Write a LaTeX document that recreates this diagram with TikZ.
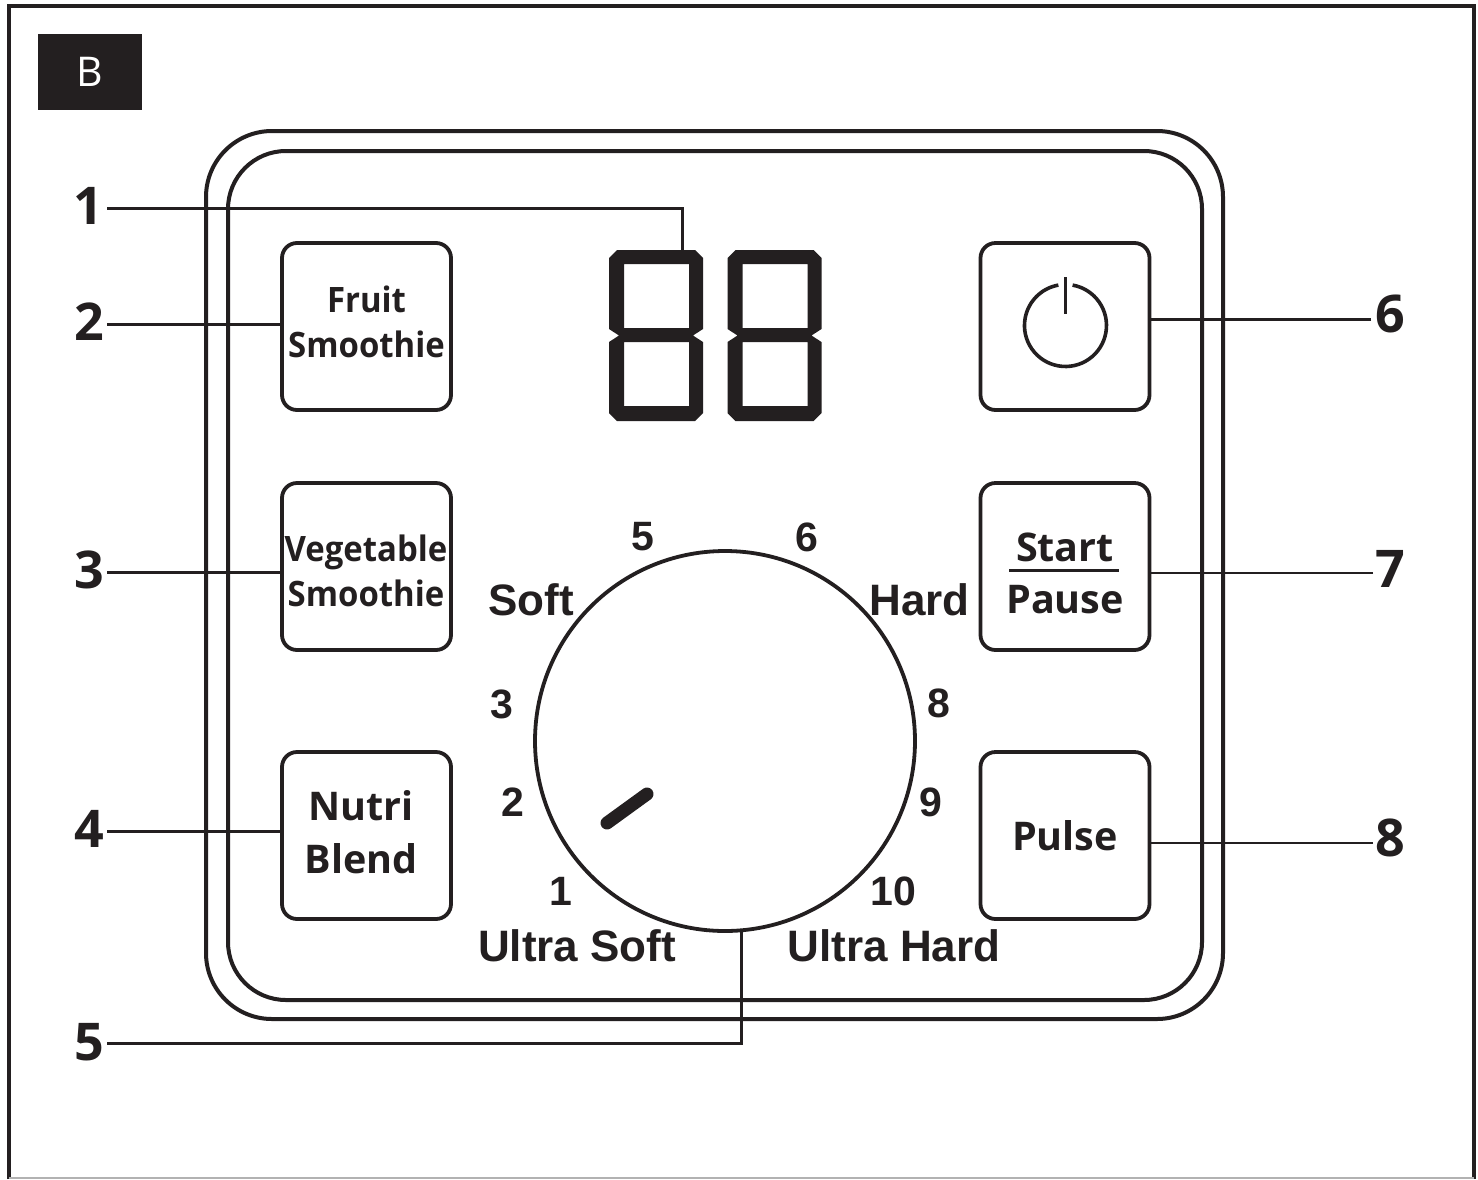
\documentclass[tikz,border=0pt]{standalone}
\usepackage{fontspec}
\setmainfont{Open Sans}
\newfontfamily\arialf{Liberation Sans}
\newfontfamily\btnf[FakeStretch=0.94]{Open Sans}
\definecolor{ink}{HTML}{231F20}
\tikzset{
  btn/.style={draw=ink,line width=3.8pt,rounded corners=15pt,minimum width=169pt,minimum height=167pt,inner sep=0pt},
  lead/.style={draw=ink,line width=3pt},
  leadthin/.style={draw=ink,line width=1.3pt},
  callout/.style={font=\fontsize{52}{52}\selectfont\bfseries,text=ink,inner sep=0pt},
  btntxt/.style={font=\btnf\fontsize{35}{45}\selectfont\bfseries,text=ink,inner sep=0pt,align=center},
  btnbig/.style={font=\fontsize{39.5}{53}\selectfont\bfseries,text=ink,inner sep=0pt,align=center},
  dial/.style={font=\arialf\fontsize{44}{44}\selectfont\bfseries,text=ink,inner sep=0pt},
  tick/.style={font=\arialf\fontsize{41}{41}\selectfont\bfseries,text=ink,inner sep=0pt},
  digit/.pic={
    \fill[ink,even odd rule]
      (8,0) -- (86,0) -- (94,8) -- (94,79) -- (84,85.5) -- (94,92) -- (94,163) -- (86,171) -- (8,171) -- (0,163) -- (0,92) -- (10,85.5) -- (0,79) -- (0,8) -- cycle
      (15,14) rectangle (80,78)
      (15,92) rectangle (80,156);
  }
}
\begin{document}
\begin{tikzpicture}[x=1pt,y=-1pt]
\useasboundingbox (0,0) rectangle (1478,1179);
\fill[white] (0,0) rectangle (1478,1179);
% page frame
\draw[draw=ink,line width=3.4pt] (9,1179) -- (9,6) -- (1474,6) -- (1474,1179);
\draw[draw=black!30,line width=1.5pt] (9,1178) -- (1474,1178);
% tag
\node[fill=ink,minimum width=104pt,minimum height=76pt,inner sep=0pt,text=white,font=\fontsize{41}{41}\selectfont] (tag) at (90,72) {B};
% panel
\node[draw=ink,line width=4pt,rounded corners=66pt,minimum width=1017pt,minimum height=888pt,inner sep=0pt] (outer) at (714.5,575) {};
\node[draw=ink,line width=4pt,rounded corners=58pt,minimum width=974pt,minimum height=849pt,inner sep=0pt] (inner) at (715,575.5) {};
% buttons
\node[btn] (fruit) at (366.5,326.5) {};
\node[btn] (veg) at (366.5,566.5) {};
\node[btn] (nutri) at (366.5,835.5) {};
\node[btn] (power) at (1065,326.5) {};
\node[btn] (start) at (1065,566.5) {};
\node[btn] (pulse) at (1065,835.5) {};
% button labels
\node[btntxt] (fruittxt) at (366.5,322) {Fruit\\Smoothie};
\node[btntxt] (vegtxt) at (366,570.5) {Vegetable\\Smoothie};
\node[btnbig] (nutritxt) at (361,832) {Nutri\\Blend};
\node[btnbig] (pulsetxt) at (1065,835.5) {Pulse};
\node[btnbig] (starttxt) at (1065,547) {Start};
\node[btnbig] (pausetxt) at (1065,600) {Pause};
\draw[draw=ink,line width=2.6pt] (1009,570.5) -- (1119,570.5);
% power icon
\draw[draw=ink,line width=3.6pt] (1072.6,285.1) arc[start angle=80,end angle=-260,radius=41pt];
\draw[draw=ink,line width=3.2pt] (1065.5,277) -- (1065.5,314);
% seven-segment digits
\path (609,250) pic {digit};
\path (727.5,250) pic {digit};
\coordinate (dtop) at (682,250);
% dial
\node[circle,draw=ink,line width=3.8pt,minimum size=380pt,inner sep=0pt] (knob) at (725,741) {};
\draw[draw=ink,line width=13pt,line cap=round] (607,823) -- (647,794);
\node[tick] (t1) at (561,891) {1};
\node[tick] (t2) at (513,802) {2};
\node[tick] (t3) at (502,704) {3};
\node[tick] (t5) at (643,537) {5};
\node[tick] (t6) at (807,537) {6};
\node[tick] (t8) at (939,703) {8};
\node[tick] (t9) at (931,802) {9};
\node[tick] (t10) at (893,891) {10};
\node[dial] (soft) at (531,600) {Soft};
\node[dial] (hard) at (919.5,600) {Hard};
\node[dial] (usoft) at (577,946) {Ultra Soft};
\node[dial] (uhard) at (894,946) {Ultra Hard};
% callouts
\node[callout] (n1) at (88,206) {1};
\node[callout] (n2) at (89,322) {2};
\node[callout] (n3) at (89,570) {3};
\node[callout] (n4) at (89,829) {4};
\node[callout] (n5) at (89,1042) {5};
\node[callout] (n6) at (1390,314) {6};
\node[callout] (n7) at (1390,569) {7};
\node[callout] (n8) at (1390,838) {8};
\coordinate (a1) at (107,208);
\coordinate (a2) at (107,324);
\coordinate (a3) at (107,572);
\coordinate (a4) at (107,831);
\coordinate (a5) at (107,1043);
\coordinate (a6) at (1371,319);
\coordinate (a7) at (1373,573);
\coordinate (a8) at (1373,843);
\coordinate (kbase) at (741,932);
\draw[lead] (a1) -| (dtop);
\draw[lead] (a2) -- (a2 -| fruit.west);
\draw[lead] (a3) -- (a3 -| veg.west);
\draw[lead] (a4) -- (a4 -| nutri.west);
\draw[lead] (a5) -| (kbase);
\draw[lead] (a6) -- (a6 -| power.east);
\draw[leadthin] (a7) -- (a7 -| start.east);
\draw[leadthin] (a8) -- (a8 -| pulse.east);
\end{tikzpicture}
\end{document}
